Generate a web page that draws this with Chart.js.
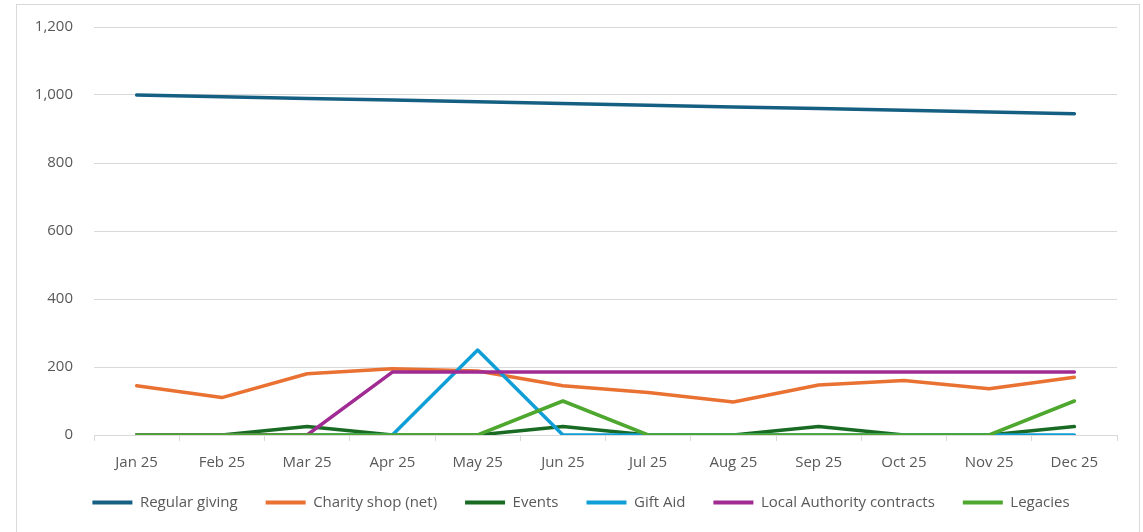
<!DOCTYPE html>
<html>
<head>
<meta charset="utf-8">
<script src="https://cdn.jsdelivr.net/npm/chart.js@4.4.1/dist/chart.umd.min.js"></script>
<style>
  html, body { margin: 0; padding: 0; background: #fff; overflow: hidden; }
  .frame { position: absolute; left: 16px; top: 4px; width: 1122px; height: 540px; border: 1px solid #d9d9d9; background: #fff; }
  .chart-container { position: absolute; left: 0; top: 0; width: 1122px; height: 533px; }
</style>
</head>
<body>
<div class="frame">
  <div class="chart-container"><canvas id="incomeChart"></canvas></div>
</div>
<script>
// Monthly income by stream
const months = ['Jan 25', 'Feb 25', 'Mar 25', 'Apr 25', 'May 25', 'Jun 25', 'Jul 25', 'Aug 25', 'Sep 25', 'Oct 25', 'Nov 25', 'Dec 25'];
const regularGiving = [1000, 995, 990, 985, 980, 975, 970, 965, 960, 955, 950, 945];
const charityShop = [145, 110, 180, 195, 188, 145, 125, 97, 147, 160, 136, 170];
const events = [0, 0, 25, 0, 0, 25, 0, 0, 25, 0, 0, 25];
const giftAid = [0, 0, 0, 0, 250, 0, 0, 0, 0, 0, 0, 0];
const localAuthority = [0, 0, 0, 185, 185, 185, 185, 185, 185, 185, 185, 185];
const legacies = [0, 0, 0, 0, 0, 100, 0, 0, 0, 0, 0, 100];
const yTicks = [0, 200, 400, 600, 800, 1000, 1200];

Chart.defaults.color = '#595959';
Chart.defaults.font.family = '"Open Sans", Lato, sans-serif';
Chart.defaults.font.size = 15;

const series = [
  ['Regular giving', regularGiving, '#156082'],
  ['Charity shop (net)', charityShop, '#E97132'],
  ['Events', events, '#196B24'],
  ['Gift Aid', giftAid, '#0F9ED5'],
  ['Local Authority contracts', localAuthority, '#A02B93'],
  ['Legacies', legacies, '#4EA72E']
];

// move the legend up closer to the axis labels and a bit right, like Excel
const legendShift = {
  id: 'legendShift',
  afterLayout: (chart) => {
    const lg = chart.legend;
    lg.left += 14;
    lg.right += 14;
    lg.top -= 18;
    lg.bottom -= 18;
  }
};

const ctx = document.getElementById('incomeChart').getContext('2d');
new Chart(ctx, {
  type: 'line',
  data: {
    labels: months,
    datasets: series.map(([label, data, color], i) => ({
      label: label,
      data: data,
      borderColor: color,
      backgroundColor: color,
      borderWidth: 3.5,
      borderCapStyle: 'round',
      borderJoinStyle: 'round',
      pointRadius: 0,
      tension: 0,
      order: series.length - i // later series on top, like Excel
    }))
  },
  plugins: [legendShift],
  options: {
    responsive: true,
    maintainAspectRatio: false,
    animation: false,
    layout: { padding: { left: 0, right: 22, top: 22, bottom: 0 } },
    plugins: {
      tooltip: { enabled: false },
      legend: {
        position: 'bottom',
        labels: {
          boxWidth: 40,
          boxHeight: 4,
          padding: 28,
          color: '#595959',
          sort: (a, b) => a.datasetIndex - b.datasetIndex,
          generateLabels: (chart) => {
            const items = Chart.defaults.plugins.legend.labels.generateLabels(chart);
            items.forEach(it => { it.lineWidth = 0; });
            return items;
          }
        }
      }
    },
    scales: {
      y: {
        min: 0,
        max: 1200,
        afterBuildTicks: (axis) => { axis.ticks = yTicks.map(v => ({ value: v })); },
        afterFit: (axis) => { axis.width = 77; },
        ticks: { padding: 0, callback: (v) => v.toLocaleString('en-GB') },
        grid: { color: '#d9d9d9', lineWidth: 1, drawTicks: true, tickLength: 21, tickColor: 'rgba(0,0,0,0)' },
        border: { display: false }
      },
      x: {
        offset: true,
        ticks: { padding: 13, maxRotation: 0 },
        grid: { offset: true, drawOnChartArea: false, drawTicks: true, tickLength: 6, color: '#d9d9d9' },
        border: { color: '#d9d9d9' }
      }
    }
  }
});
</script>
</body>
</html>
